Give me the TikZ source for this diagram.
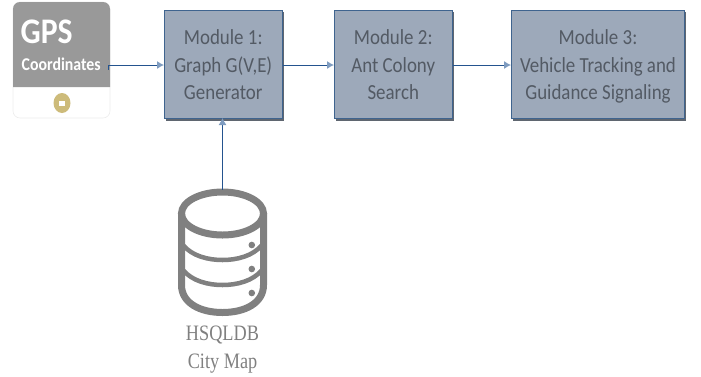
\documentclass[tikz,border=0pt]{standalone}
\usepackage{fontspec}
\setmainfont{Carlito}
\newfontfamily\narrowface[FakeStretch=0.88]{Carlito}
\newfontfamily\narrowbold[FakeStretch=0.88]{Carlito Bold}
\newfontfamily\serifface[FakeStretch=0.83]{Liberation Serif}
\usetikzlibrary{arrows.meta}
\newcommand\toppad{\rule{0pt}{23.5pt}}
\definecolor{boxfill}{HTML}{9DA9BA}
\definecolor{boxline}{HTML}{3F648F}
\definecolor{boxshadow}{HTML}{5F6670}
\definecolor{boxtext}{HTML}{535A64}
\definecolor{arrowline}{HTML}{24548F}
\definecolor{arrowtip}{HTML}{7F9CC0}
\definecolor{gpsgrey}{HTML}{999999}
\definecolor{gpsedge}{HTML}{EDEDED}
\definecolor{gold}{HTML}{CDBB7A}
\definecolor{dbgrey}{HTML}{808080}
\tikzset{
  x=1pt,y=-1pt,
  modulebox/.style={draw=boxline,line width=1pt,fill=boxfill,text=boxtext,inner sep=0pt,align=center,
    font=\narrowface\fontsize{21.5}{27.8}\selectfont},
  flow/.style={draw=arrowline,line width=1pt,-{Latex[length=7pt,width=8pt,color=arrowtip]}},
  dbline/.style={draw=dbgrey,line cap=round},
  dblabel/.style={text=dbgrey,inner sep=0pt,font=\serifface\fontsize{22}{28}\selectfont,align=center}
}
\begin{document}
\begin{tikzpicture}
\useasboundingbox (0,0) rectangle (701,376);
% shadows
\fill[boxshadow] (166,12) rectangle (283.5,120.5);
\fill[boxshadow] (336,12) rectangle (453.5,120.5);
\fill[boxshadow] (513,12) rectangle (686,120.5);
% modules
\node[modulebox,minimum width=117.5pt,minimum height=108pt,anchor=north west] (m1) at (164,10) {\toppad Module 1:\\Graph G(V,E)\\\strut Generator};
\node[modulebox,minimum width=117.5pt,minimum height=108pt,anchor=north west] (m2) at (334,10) {\toppad Module 2:\\Ant Colony\\\strut Search};
\node[modulebox,minimum width=173pt,minimum height=108pt,anchor=north west] (m3) at (511,10) {\toppad Module 3:\\Vehicle Tracking and\\\strut Guidance Signaling};
% GPS card
\fill[white,draw=gpsedge,line width=.6pt,rounded corners=7pt] (13,2) rectangle (110,118);
\fill[gpsgrey,rounded corners=7pt] (13,87) [sharp corners] -- (13,40) [rounded corners=7pt] -- (13,2) -- (110,2) [sharp corners] -- (110,40) -- (110,87) -- cycle;
\node[text=white,inner sep=0pt,font=\narrowbold\fontsize{36}{36}\selectfont,anchor=west] (gpst) at (20.5,32) {GPS};
\node[text=white,inner sep=0pt,font=\narrowbold\fontsize{18}{18}\selectfont,anchor=west] (gpsc) at (21.5,64.5) {Coordinates};
\coordinate (gpsout) at (108.5,65);
\fill[gold] (62,103) ellipse[x radius=8.5,y radius=10];
\fill[white] (59,100.5) rectangle (65,105.5);
% database
\begin{scope}[dbline,line width=7pt]
\draw (181.5,213.5) -- (181.5,285) .. controls (181.5,303) and (200,312.5) .. (222.5,312.5) .. controls (245,312.5) and (263.5,303) .. (263.5,285) -- (263.5,213.5);
\draw (222.5,213.5) ellipse[x radius=41,y radius=21.5];
\end{scope}
\coordinate (dbtop) at (222.5,189.5);
\begin{scope}[dbline,line width=4.5pt]
\draw (183,245) .. controls (192,256) and (208,260) .. (222.5,260) .. controls (237,260) and (253,256) .. (262,245);
\draw (183,270) .. controls (192,281) and (208,285) .. (222.5,285) .. controls (237,285) and (253,281) .. (262,270);
\end{scope}
\fill[dbgrey] (251.8,245) circle (3.3) (251.8,269) circle (3.3) (251.8,293) circle (3.3);
\node[dblabel] (dbl) at (222.5,350) {HSQLDB\\City Map};
% connectors
\draw[flow] (gpsout) -- (m1.west |- gpsout);
\draw[arrowline,line width=1pt] (gpsout) -- ++(0,4.5);
\draw[flow] (m1.east |- gpsout) -- (m2.west |- gpsout);
\draw[flow] (m2.east |- gpsout) -- (m3.west |- gpsout);
\draw[flow,shorten >=-1pt] (dbtop) -- (dbtop |- m1.south);
\end{tikzpicture}
\end{document}
